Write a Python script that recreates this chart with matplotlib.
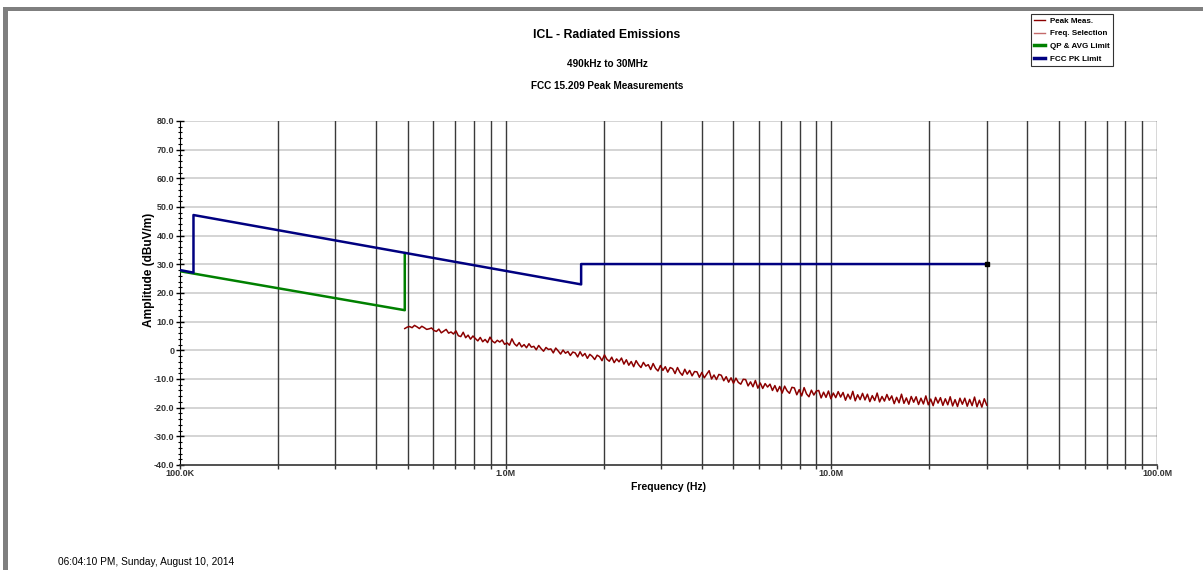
import numpy as np
import matplotlib
matplotlib.use('Agg')
import matplotlib.pyplot as plt
from matplotlib.lines import Line2D
from matplotlib.patches import Rectangle
from matplotlib.ticker import FixedLocator, MultipleLocator, NullFormatter

plt.rcParams['font.family'] = ['Liberation Sans', 'DejaVu Sans']

# limit lines (Hz, dBuV/m)
pk_freq = [100e3, 110e3, 110e3, 1.705e6, 1.705e6, 30e6]
pk_level = [28.0, 27.1, 47.2, 23.0, 30.1, 30.1]
qp_freq = [100e3, 490e3, 490e3]
qp_level = [27.6, 14.0, 33.9]

peak_meas = [
    7.6, 8.1, 8.3, 7.9, 8.7, 8.2, 7.6, 8.4, 7.9, 7.3,
    7.5, 7.8, 6.9, 6.6, 7.4, 6.1, 6.7, 7.3, 6.0, 6.4,
    5.7, 6.8, 5.1, 4.8, 6.3, 4.4, 5.3, 3.9, 5.0, 4.1,
    3.3, 4.5, 3.0, 3.8, 2.7, 4.6, 3.2, 2.6, 3.5, 2.9,
    3.6, 2.1, 2.6, 1.8, 4.0, 2.3, 1.5, 2.7, 1.2, 2.0,
    0.9, 2.3, 1.1, 1.4, 0.2, 1.7, 0.6, -0.3, 1.0, 0.3,
    0.5, -0.9, 0.8, -0.2, -1.3, 0.1, -1.0, -0.4, -1.8, -0.6,
    -0.9, -2.3, -0.5, -2.0, -1.1, -2.8, -1.4, -2.1, -3.2, -1.7,
    -2.2, -3.6, -1.6, -3.1, -3.8, -2.4, -4.3, -3.0, -4.0, -2.7,
    -4.8, -3.3, -5.2, -3.9, -5.7, -3.6, -5.0, -6.0, -4.2, -5.5,
    -5.0, -6.7, -4.6, -6.3, -7.2, -5.3, -7.0, -5.7, -7.6, -6.0,
    -6.4, -8.1, -6.0, -7.7, -8.7, -6.6, -8.3, -7.0, -8.9, -7.4,
    -7.5, -9.4, -7.7, -9.6, -8.3, -7.1, -10.0, -8.6, -10.2, -8.4,
    -8.7, -10.6, -9.2, -11.1, -9.6, -11.5, -9.7, -11.2, -11.8, -10.1,
    -10.2, -12.4, -11.0, -12.7, -10.5, -13.2, -11.4, -13.3, -11.6, -12.8,
    -11.8, -14.0, -12.3, -14.4, -12.6, -14.9, -12.5, -14.1, -15.0, -12.9,
    -13.1, -15.5, -13.7, -15.9, -13.0, -15.2, -16.2, -13.9, -15.6, -14.2,
    -14.0, -16.6, -14.6, -16.4, -14.2, -16.9, -14.9, -16.5, -14.4, -16.3,
    -14.7, -17.4, -15.3, -17.0, -14.3, -17.6, -15.5, -17.2, -15.0, -17.3,
    -15.3, -17.9, -15.8, -17.5, -14.9, -18.0, -16.1, -17.7, -15.4, -17.4,
    -15.9, -18.6, -16.4, -18.3, -15.3, -18.5, -16.6, -18.8, -16.1, -18.1,
    -16.2, -18.9, -16.7, -18.7, -15.9, -19.0, -17.0, -19.3, -16.4, -18.4,
    -16.5, -19.2, -16.9, -19.0, -16.2, -19.4, -17.2, -19.6, -16.7, -18.8,
    -16.7, -19.5, -17.1, -19.3, -16.3, -19.7, -17.4, -19.8, -16.9, -19.1,
]
sweep_start = 490e3
sweep_stop = 30e6
peak_freq = np.geomspace(sweep_start, sweep_stop, len(peak_meas))

x_grid = [2e5, 3e5, 4e5, 5e5, 6e5, 7e5, 8e5, 9e5, 1e6,
          2e6, 3e6, 4e6, 5e6, 6e6, 7e6, 8e6, 9e6, 1e7,
          2e7, 3e7, 4e7, 5e7, 6e7, 7e7, 8e7, 9e7, 1e8]
x_labels = {1e5: '100.0K', 1e6: '1.0M', 1e7: '10.0M', 1e8: '100.0M'}
y_major = [-40, -30, -20, -10, 0, 10, 20, 30, 40, 50, 60, 70, 80]

fig = plt.figure(figsize=(12.03, 5.70), dpi=100)
ax = fig.add_axes([180 / 1203, 105 / 570, 977 / 1203, 344 / 570])

ax.set_xscale('log')
ax.set_xlim(1e5, 1e8)
ax.set_ylim(-40, 80)

for y in y_major[1:]:
    ax.axhline(y, color='#d4d4d4', lw=1.4, zorder=1)
for x in x_grid:
    ax.axvline(x, color='#3a3a3a', lw=1.0, zorder=1)

ax.plot(qp_freq, qp_level, color='#008000', lw=1.8, zorder=3)
ax.plot(pk_freq, pk_level, color='#000080', lw=1.8, zorder=4)
ax.plot([pk_freq[-1]], [pk_level[-1]], marker='s', ms=3, color='black', zorder=5)
ax.plot(peak_freq, peak_meas, color='#8b0000', lw=1.1, zorder=2)

# axes styling
for side in ['top', 'right']:
    ax.spines[side].set_visible(False)
ax.spines['left'].set_color('black')
ax.spines['bottom'].set_color('#333333')
ax.spines['bottom'].set_linewidth(1.2)

ax.xaxis.set_major_locator(FixedLocator([1e5] + x_grid))
ax.xaxis.set_minor_locator(FixedLocator([]))
ax.set_xticklabels([x_labels.get(v, '') for v in [1e5] + x_grid])
ax.tick_params(axis='x', direction='out', length=3, width=1, color='#333333',
               labelsize=6.5, pad=0)
for lbl in ax.get_xticklabels():
    lbl.set_fontweight('bold')
    lbl.set_color('#333333')

ax.yaxis.set_major_locator(FixedLocator(y_major))
ax.yaxis.set_minor_locator(MultipleLocator(2))
ax.yaxis.set_minor_formatter(NullFormatter())
ax.set_yticklabels(['0' if v == 0 else '%.1f' % v for v in y_major])
ax.tick_params(axis='y', which='major', direction='inout', length=6, width=1,
               labelsize=6.5, pad=1)
ax.tick_params(axis='y', which='minor', direction='inout', length=3, width=0.8)
for lbl in ax.get_yticklabels():
    lbl.set_fontweight('bold')
    lbl.set_color('#333333')

ax.set_ylabel('Amplitude (dBuV/m)', fontsize=8.6, fontweight='bold')
ax.yaxis.set_label_coords(-25 / 977, (465 - 270) / 344)
ax.set_xlabel('Frequency (Hz)', fontsize=7.5, fontweight='bold', labelpad=3)

# titles
fig.text(607 / 1203, 1 - 35 / 570, 'ICL - Radiated Emissions', ha='center', va='center',
         fontsize=8.8, fontweight='bold')
fig.text(607 / 1203, 1 - 64 / 570, '490kHz to 30MHz', ha='center', va='center',
         fontsize=7.2, fontweight='bold')
fig.text(607 / 1203, 1 - 86 / 570, 'FCC 15.209 Peak Measurements', ha='center', va='center',
         fontsize=7.2, fontweight='bold')
fig.text(58 / 1203, 1 - 562 / 570, '06:04:10 PM, Sunday, August 10, 2014',
         ha='left', va='center', fontsize=7.3)

# legend
handles = [
    Line2D([], [], color='#8b0000', lw=1.0),
    Line2D([], [], color='#c46a6a', lw=1.0),
    Line2D([], [], color='#008000', lw=2.5),
    Line2D([], [], color='#000080', lw=2.5),
]
labels = ['Peak Meas.', 'Freq. Selection', 'QP & AVG Limit', 'FCC PK Limit']
leg = fig.legend(handles, labels, loc='upper left',
                 bbox_to_anchor=(1031 / 1203, 1 - 14 / 570),
                 prop={'size': 5.8, 'weight': 'bold'}, frameon=True, fancybox=False,
                 handlelength=1.3, handletextpad=0.6, labelspacing=0.62,
                 borderpad=0.4, borderaxespad=0)
leg.get_frame().set_edgecolor('black')
leg.get_frame().set_linewidth(0.8)

# window border
fig.add_artist(Rectangle((3 / 1203, 1 - 11 / 570), 1, 4 / 570, transform=fig.transFigure,
                         color='#7f7f7f', lw=0))
fig.add_artist(Rectangle((3 / 1203, 0), 5 / 1203, 1 - 7 / 570, transform=fig.transFigure,
                         color='#7f7f7f', lw=0))

fig.savefig('out.png', dpi=100)
